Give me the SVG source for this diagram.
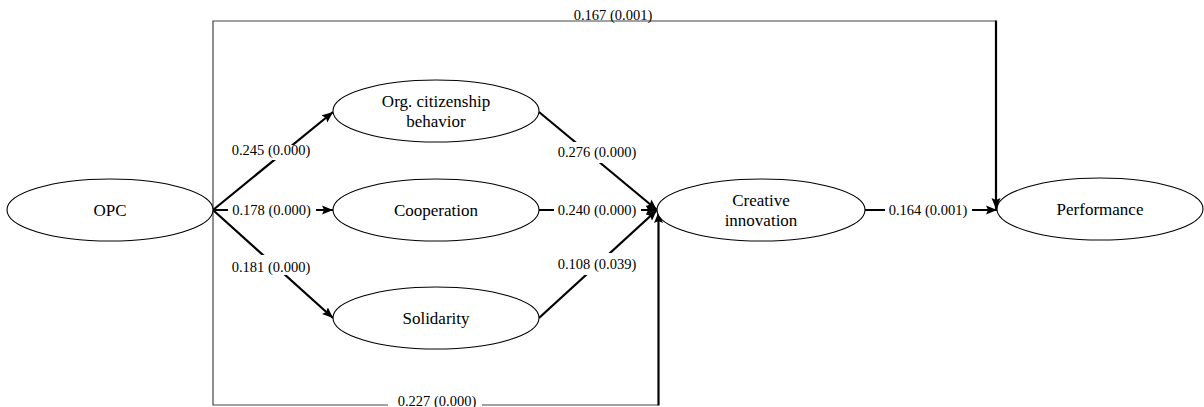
<svg xmlns="http://www.w3.org/2000/svg" width="1204" height="407" viewBox="0 0 1204 407">
<style>
.node ellipse{fill:#fff;stroke:#000;stroke-width:1.1}
.e{stroke:#000;stroke-width:2.2;fill:none}
.thin{stroke:#444;stroke-width:1.2;fill:none}
.lbl rect{fill:#fff}
</style>
<defs>
<marker id="ah" markerUnits="userSpaceOnUse" markerWidth="12" markerHeight="10" refX="11" refY="5" orient="auto">
<path d="M0,0.5 L11,5 L0,9.5 L2,5 z" fill="#000"/>
</marker>
</defs>
<g id="connectors">
<path class="thin" d="M213,210 V21 H996"/>
<path class="thin" d="M213,210 V405 H658"/>
<line class="e" x1="996" y1="20.5" x2="996" y2="209" marker-end="url(#ah)"/>
<line class="e" x1="658.5" y1="405.5" x2="658.5" y2="212" marker-end="url(#ah)"/>
<line class="e" x1="213" y1="210" x2="333" y2="112" marker-end="url(#ah)"/>
<line class="e" x1="213" y1="210" x2="333" y2="210" marker-end="url(#ah)"/>
<line class="e" x1="213" y1="210" x2="333" y2="318" marker-end="url(#ah)"/>
<line class="e" x1="539" y1="112" x2="657" y2="210" marker-end="url(#ah)"/>
<line class="e" x1="539" y1="210" x2="657" y2="210" marker-end="url(#ah)"/>
<line class="e" x1="539" y1="318" x2="657" y2="210" marker-end="url(#ah)"/>
<line class="e" x1="865" y1="210" x2="997" y2="210" marker-end="url(#ah)"/>
<g class="lbl" font-family="Liberation Serif, Times New Roman, serif" font-size="14.5" text-anchor="middle" fill="#000">
<rect x="567" y="7" width="91" height="13"/><text x="613" y="20">0.167 (0.001)</text>
<rect x="388" y="395" width="94" height="12"/><text x="437" y="406">0.227 (0.000)</text>
<rect x="228" y="145" width="86" height="15"/><text x="271" y="155">0.245 (0.000)</text>
<rect x="228" y="201" width="88" height="18"/><text x="271.5" y="214.5">0.178 (0.000)</text>
<rect x="228" y="255" width="86" height="20"/><text x="271" y="272">0.181 (0.000)</text>
<rect x="554" y="142" width="86" height="21"/><text x="597" y="157">0.276 (0.000)</text>
<rect x="554" y="201" width="87" height="18"/><text x="597" y="215">0.240 (0.000)</text>
<rect x="554" y="253" width="86" height="22"/><text x="597" y="268.5">0.108 (0.039)</text>
<rect x="885" y="201" width="87" height="18"/><text x="928" y="215">0.164 (0.001)</text>
</g>
</g>
<g font-family="Liberation Serif, Times New Roman, serif" font-size="17" text-anchor="middle" fill="#000">
<g id="opc" class="node"><ellipse cx="110" cy="210" rx="103" ry="31"/><text x="110" y="216">OPC</text></g>
<g id="ocb" class="node"><ellipse cx="436" cy="111" rx="103" ry="31"/><text x="436" y="107">Org. citizenship</text><text x="436" y="127">behavior</text></g>
<g id="cooperation" class="node"><ellipse cx="436" cy="210" rx="103" ry="31"/><text x="436" y="216">Cooperation</text></g>
<g id="solidarity" class="node"><ellipse cx="436" cy="318" rx="103" ry="31"/><text x="436" y="324">Solidarity</text></g>
<g id="creative" class="node"><ellipse cx="761" cy="210" rx="104" ry="31"/><text x="761" y="206">Creative</text><text x="761" y="226">innovation</text></g>
<g id="performance" class="node"><ellipse cx="1100" cy="209" rx="103" ry="31"/><text x="1100" y="215">Performance</text></g>
</g>
</svg>
